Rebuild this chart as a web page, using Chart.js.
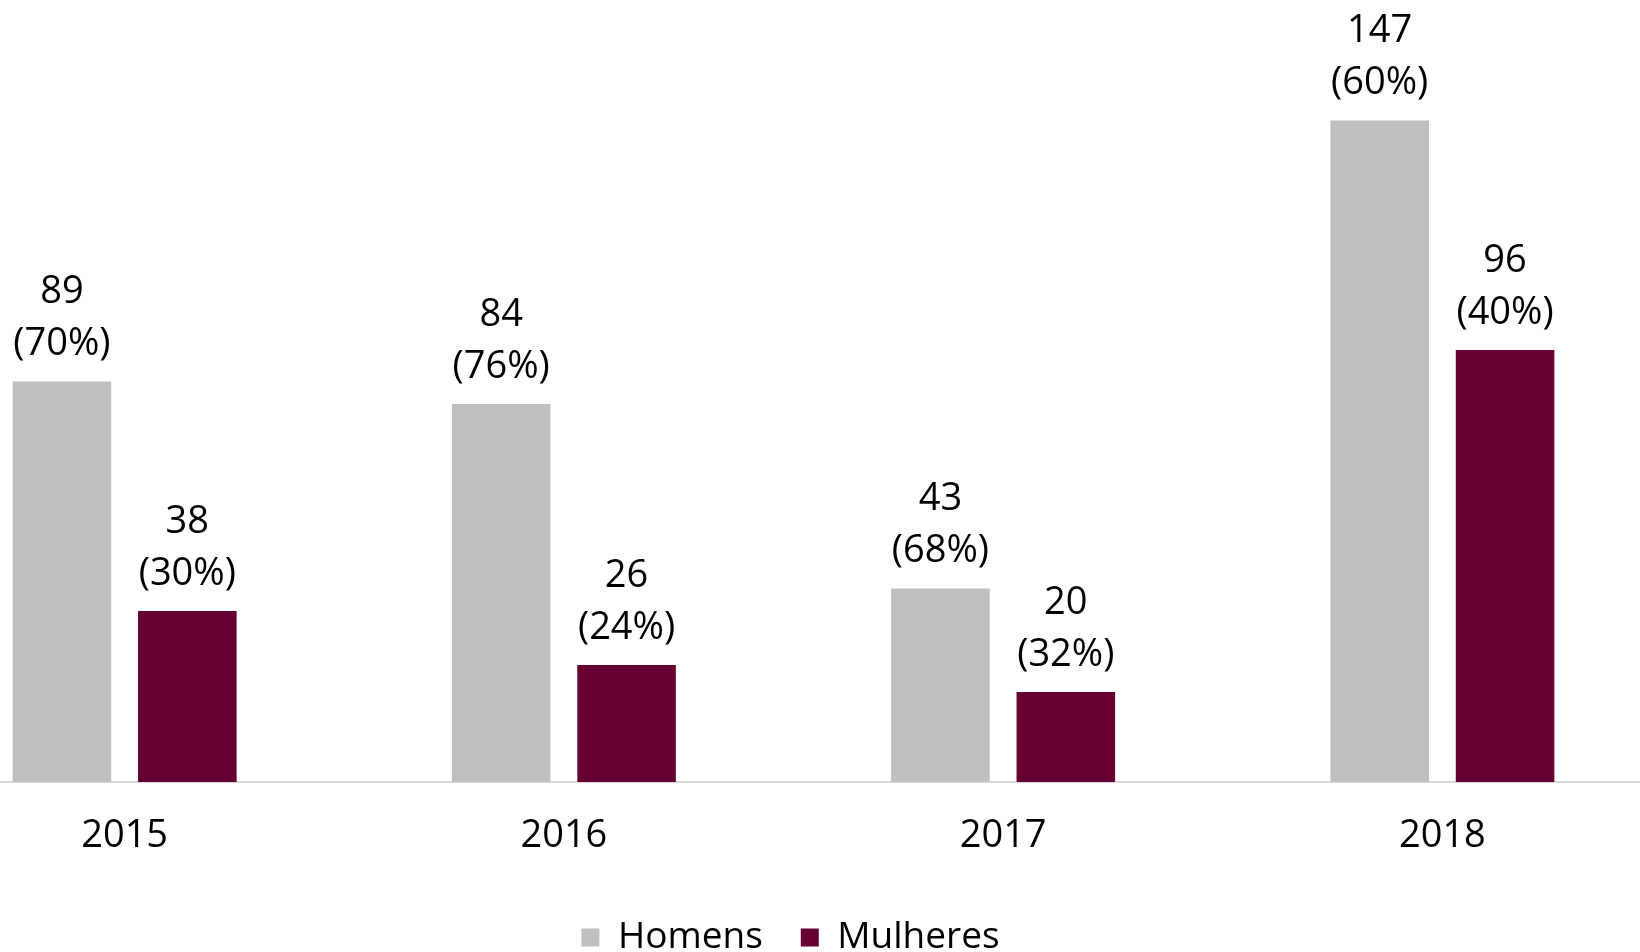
<!DOCTYPE html>
<html>
<head>
    <meta charset="utf-8">
    <title>Homens e Mulheres por ano</title>
    <!-- Chart.js -->
    <script src="https://cdn.jsdelivr.net/npm/chart.js"></script>
    <style>
        html, body { margin: 0; padding: 0; background: #ffffff; overflow: hidden; }
        #caixa { position: absolute; left: -95px; top: 0; width: 1771px; height: 970px; }
    </style>
</head>
<body>
    <div id="caixa">
        <canvas id="grafico"></canvas>
    </div>

    <script>
        // Dados do gráfico
        var anos = ['2015', '2016', '2017', '2018'];
        var homens = [89, 84, 43, 147];
        var mulheres = [38, 26, 20, 96];
        var pctHomens = [70, 76, 68, 60];
        var pctMulheres = [30, 24, 32, 40];

        var fonte = "'Open Sans', sans-serif";

        // Rótulos acima das barras: valor e percentagem
        var rotulos = {
            id: 'rotulos',
            afterDatasetsDraw: function (chart) {
                var ctx = chart.ctx;
                var pcts = [pctHomens, pctMulheres];
                ctx.save();
                ctx.font = '38px ' + fonte;
                ctx.fillStyle = '#000000';
                ctx.textAlign = 'center';
                ctx.textBaseline = 'middle';
                chart.data.datasets.forEach(function (ds, i) {
                    var meta = chart.getDatasetMeta(i);
                    meta.data.forEach(function (barra, j) {
                        ctx.fillText(String(ds.data[j]), barra.x, barra.y - 89);
                        ctx.fillText('(' + pcts[i][j] + '%)', barra.x, barra.y - 37);
                    });
                });
                ctx.restore();
            }
        };

        var ctx = document.getElementById('grafico').getContext('2d');
        var grafico = new Chart(ctx, {
            type: 'bar',
            data: {
                labels: anos,
                datasets: [
                    {
                        label: 'Homens',
                        data: homens,
                        backgroundColor: '#bfbfbf',
                        categoryPercentage: 0.571,
                        barPercentage: 0.786
                    },
                    {
                        label: 'Mulheres',
                        data: mulheres,
                        backgroundColor: '#660033',
                        categoryPercentage: 0.571,
                        barPercentage: 0.786
                    }
                ]
            },
            options: {
                responsive: true,
                maintainAspectRatio: false,
                animation: false,
                layout: { padding: { top: 62, bottom: 4, left: 0, right: 0 } },
                plugins: {
                    tooltip: { enabled: false },
                    legend: {
                        position: 'bottom',
                        labels: {
                            boxWidth: 18,
                            boxHeight: 18,
                            padding: 38,
                            color: '#000000',
                            font: { family: fonte, size: 37 }
                        }
                    }
                },
                scales: {
                    x: {
                        grid: { display: false, drawTicks: false },
                        border: { display: true, color: '#d9d9d9', width: 2 },
                        ticks: {
                            color: '#000000',
                            padding: 31,
                            font: { family: fonte, size: 38 }
                        },
                        afterFit: function (escala) { escala.height = 99; }
                    },
                    y: {
                        position: 'right',
                        min: 0,
                        max: 160,
                        grid: { display: false },
                        border: { display: false },
                        ticks: { display: false },
                        afterFit: function (escala) { escala.width = 14; }
                    }
                }
            },
            plugins: [rotulos]
        });
    </script>
</body>
</html>
